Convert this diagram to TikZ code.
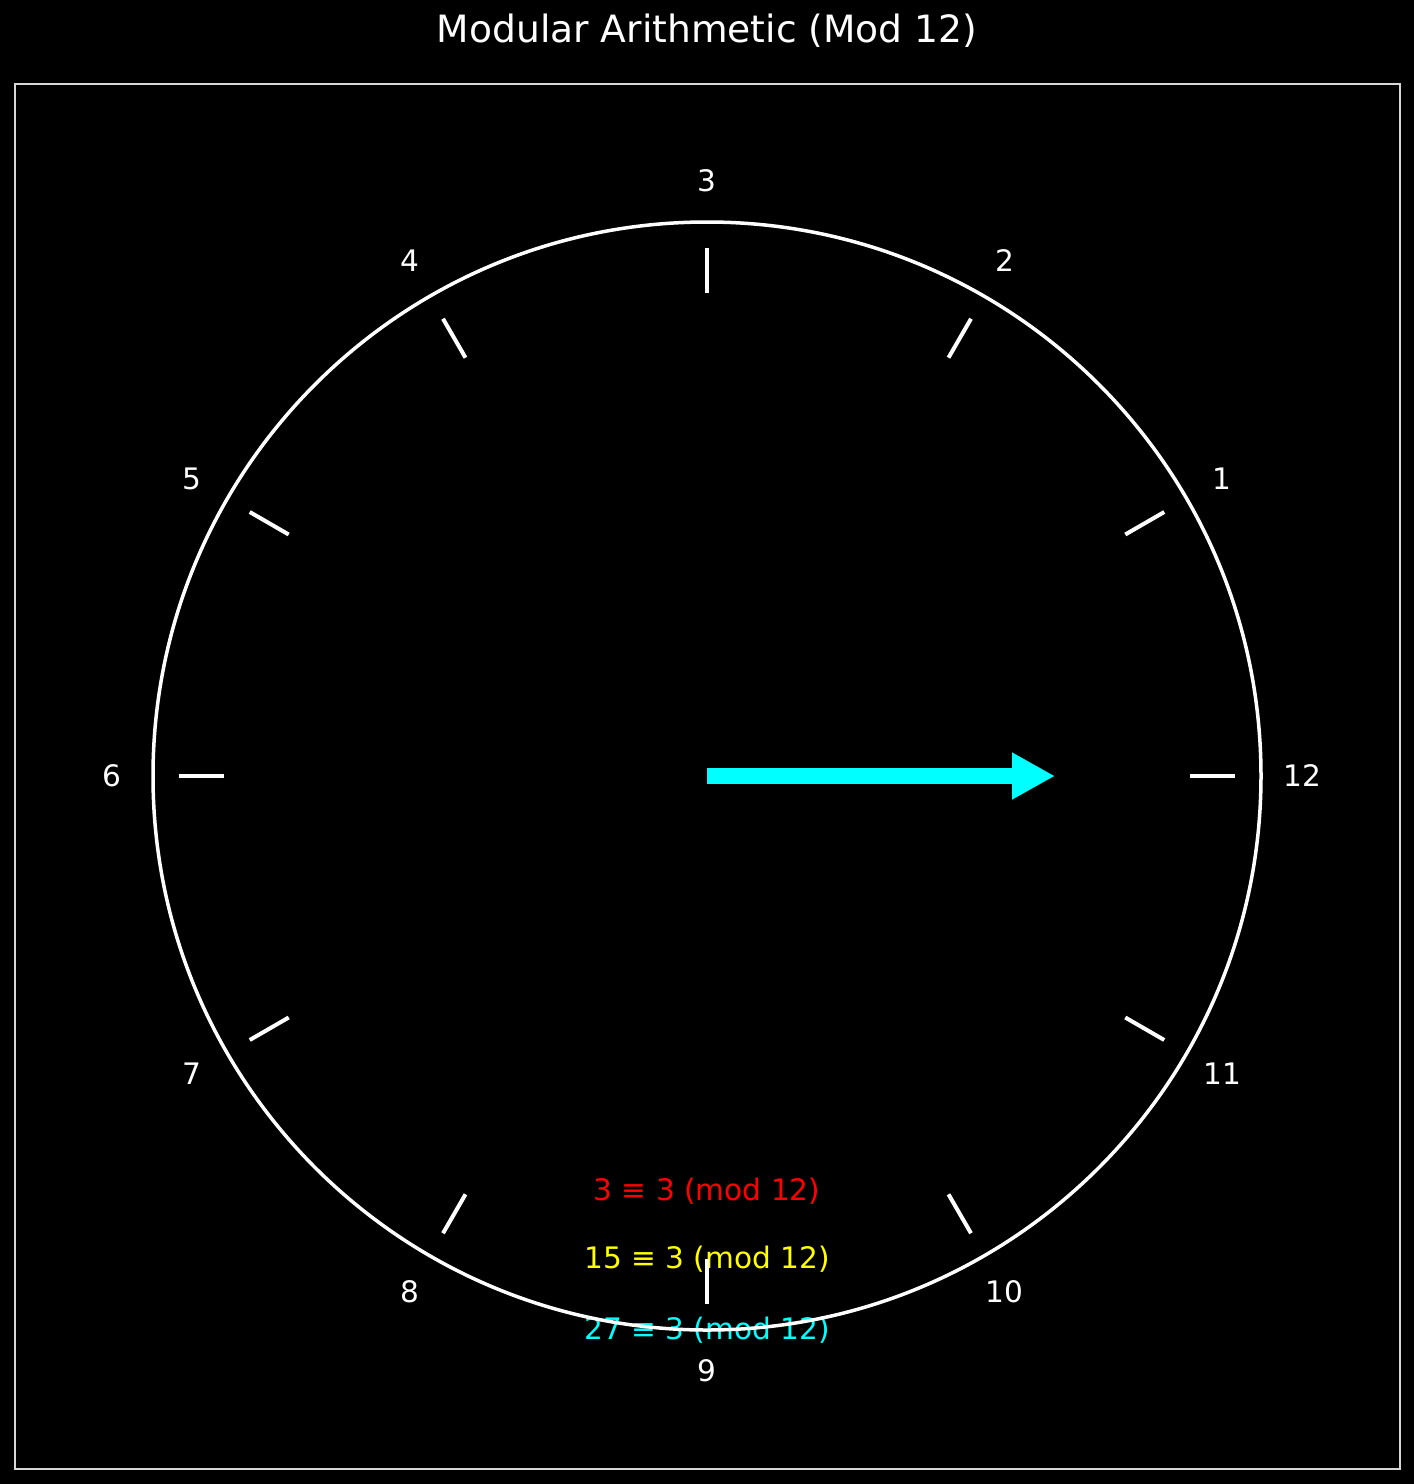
\documentclass[tikz,border=0pt]{standalone}
\usepackage{fontspec}
\setmainfont{DejaVu Sans}
\usetikzlibrary{arrows.meta}
\definecolor{framegray}{RGB}{215,215,215}
\definecolor{handcyan}{RGB}{0,255,255}
\definecolor{eqyellow}{RGB}{255,255,0}
\definecolor{eqred}{RGB}{255,0,0}
\begin{document}
\begin{tikzpicture}[x=0.5pt, y=-0.5pt,
    hour/.style={text=white, inner sep=0pt, font=\fontsize{14.8}{17}\selectfont},
    congr/.style={inner sep=0pt, font=\fontsize{14.8}{17}\selectfont},
    hourmark/.style={white, line width=2pt},
    hand/.style={handcyan, line width=8pt, -{Triangle[length=21.5pt, width=22pt]}}
]
% Background and frame
\fill[black] (0,0) rectangle (1414,1484);
\draw[framegray, line width=0.75pt] (15,84) rectangle (1400,1469);
\node[text=white, inner sep=0pt, font=\fontsize{18.8}{22}\selectfont] (title) at (707,31) {Modular Arithmetic (Mod 12)};

% Congruences
\node[congr, text=eqred] (eqa) at (707,1191) {3 ≡ 3 (mod 12)};
\node[congr, text=eqyellow] (eqb) at (707,1259) {15 ≡ 3 (mod 12)};
\node[congr, text=handcyan] (eqc) at (707,1330) {27 ≡ 3 (mod 12)};

% Clock face
\coordinate (ctr) at (707,776);
\draw[white, line width=1.75pt] (ctr) circle[radius=554];
\foreach \k in {1,...,12} {
    \draw[hourmark] ({707+483*cos(30*\k)},{776-483*sin(30*\k)}) -- ({707+528*cos(30*\k)},{776-528*sin(30*\k)});
    \node[hour] (h\k) at ({707+595*cos(30*\k)},{776-595*sin(30*\k)}) {\k};
}

% Hand
\coordinate (tip) at (1055,776);
\draw[hand] (ctr) -- (tip);
\end{tikzpicture}
\end{document}
